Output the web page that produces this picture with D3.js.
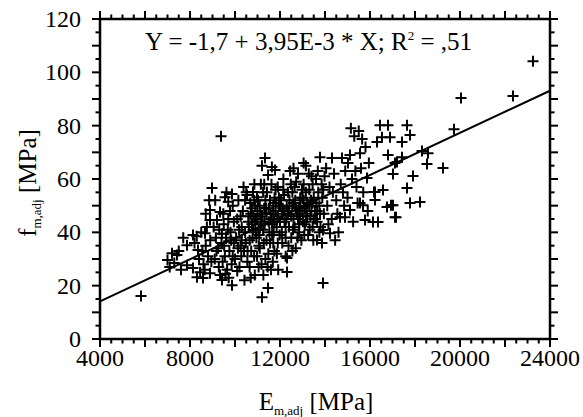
<!DOCTYPE html>
<html><head><meta charset="utf-8">
<script src="https://cdn.jsdelivr.net/npm/d3@7"></script>
<style>
html,body{margin:0;padding:0;background:#fff;}
svg text{font-family:"Liberation Serif","Times New Roman",Times,serif;fill:#000;}
</style></head>
<body>
<svg id="chart" width="583" height="417" font-family="Liberation Serif, Times New Roman, serif"></svg>
<script>
// ---- data (E_m,adj [MPa], f_m,adj [MPa]) ----
const groupLow = [[5822,16.1],[7000,29.6],[7200,32.2],[7420,31.5],[7100,27],[7600,26],[7867,35.2],[7867,27.7],[7700,38],[7500,33],[7300,28.5]];
const group8k = [[8133,26.6],[8133,39],[8311,23.2],[8356,33.4],[8578,22.9],[8667,39.7],[8889,24.7],[8889,48.4],[8889,44.6],[8978,56.6],[8200,36],[8400,30],[8500,40],[8600,28],[8700,35],[8800,31],[8900,37],[8450,25],[8750,42],[8300,38.5],[8550,33],[8650,26],[8950,29],[8850,52],[8700,47]];
const group9k = [[9200,44.6],[9333,47.6],[9333,24],[9422,22.1],[9556,53.2],[9867,54.4],[9867,20.2],[9378,76],[9100,30],[9150,38],[9250,34],[9300,41],[9400,36],[9450,29],[9500,43],[9550,31],[9600,38],[9650,26],[9700,45],[9750,33],[9800,40],[9850,28],[9900,50],[9950,36],[9050,42],[9120,52],[9480,47],[9620,55],[9720,23],[9780,48],[9280,27],[9520,35],[9680,41],[9900,31],[9950,44],[9180,33],[9420,39.5],[9580,24.5],[9830,37],[9700,51.5]];
const group10k = [[10000,30],[10050,38],[10100,45],[10150,52],[10200,27],[10250,35],[10300,42],[10350,48],[10400,33],[10450,40],[10500,55],[10533,54],[10550,29],[10600,46],[10650,37],[10700,23],[10750,43],[10800,55.1],[10850,31],[10900,50],[10978,53.2],[10950,38],[10100,25.5],[10180,41],[10280,31],[10380,57],[10420,22],[10480,36],[10620,42],[10680,51],[10720,33],[10820,46],[10880,24],[10920,40],[10650,27],[10780,38],[10980,31],[10250,46],[10560,33],[10860,58],[10300,37],[10750,49],[10450,52],[10920,45],[10130,34]];
const group11k = [[11000,45],[11050,27],[11100,34],[11150,58],[11200,65],[11200,15.7],[11250,41],[11300,49],[11333,67.9],[11350,30],[11400,37],[11467,19.1],[11470,61.5],[11500,44],[11550,52],[11640,64.5],[11600,26],[11650,39],[11700,47],[11750,33],[11780,63.4],[11800,56],[11850,42],[11900,36],[11950,50],[11020,52],[11080,39],[11120,47],[11180,28],[11280,36],[11320,43],[11420,55],[11480,32],[11580,47],[11620,58],[11680,29],[11720,40],[11820,51],[11880,45],[11920,26],[11980,39],[11380,49],[11530,40],[11760,53],[11060,35],[11260,24],[11560,36],[11860,32],[11150,43],[11450,27],[11900,57],[11700,36],[11300,58]];
const group12k = [[12000,44],[12050,52],[12100,36],[12150,60],[12200,48],[12250,31],[12311,30.4],[12311,25.1],[12350,55],[12400,42],[12450,63],[12500,38],[12550,50],[12600,45],[12650,57],[12700,34],[12750,47],[12800,62],[12850,40],[12900,53],[12950,37],[12080,40],[12180,54],[12280,45],[12380,35],[12480,58],[12580,41],[12680,52],[12780,38],[12880,46],[12980,56],[12120,49],[12420,52],[12720,59],[12250,38],[12550,33],[12850,49],[12600,64],[12350,47]];
const group13k = [[13000,48],[13050,58],[13100,43],[13150,65],[13200,51],[13250,39],[13300,56],[13350,46],[13400,61],[13450,42],[13500,53],[13550,48],[13644,37.1],[13600,60],[13650,44],[13700,55],[13778,68.2],[13750,50],[13800,42],[13867,36],[13850,58],[13911,40.9],[13911,21],[13950,47],[13080,39],[13180,47],[13280,62],[13380,52],[13480,37],[13580,45],[13680,63],[13780,47],[13880,53],[13980,61],[13020,44],[13320,41],[13620,51],[13920,56],[13150,55],[13450,58],[13750,40],[13050,66]];
const groupCore = [[10600,44],[10700,47],[10800,41],[10900,44],[11000,48],[11100,50],[11200,46],[11300,44],[11400,47],[11500,49],[11600,45],[11700,50],[11800,48],[11900,46],[12000,50],[12100,47],[12200,44],[12300,50],[12400,48],[12500,46],[12600,51],[12700,49],[12800,45],[12900,50],[13000,53],[13100,49],[13200,46],[13300,50],[13400,48],[13500,45],[11050,41],[11350,52],[11650,43],[11950,53],[12250,42],[12550,55],[12850,43],[13150,44],[13450,51],[13650,48],[10850,52],[11250,55],[11750,44],[12150,56],[12650,42],[13050,52]];
const group14k = [[14222,39.7],[14311,67.9],[14667,45.7],[14756,67.9],[14889,45.7],[15022,66],[15111,69],[15111,48.4],[15556,69.7],[15556,51],[15689,50.2],[15778,44.6],[15867,60.4],[14100,50],[14200,57],[14300,45],[14400,62],[14500,52],[14600,40],[14700,58],[14800,55],[14900,63],[15000,53],[15200,60],[15300,76],[15400,57],[15500,78],[15600,64],[15700,55],[15800,72],[15900,48],[14150,43],[14450,37],[14550,47],[14850,50],[15250,44],[15350,63],[15450,51],[15650,75],[15950,66],[15150,79],[14050,64],[14350,55]];
const group16k = [[16133,43.9],[16222,52.1],[16178,55.1],[16222,55.1],[16311,73.9],[16356,43.9],[16444,80.2],[16533,75.7],[16578,55.9],[16756,49.5],[16800,69],[16800,80.2],[16889,75.7],[16933,50.2],[17022,61.9],[17022,50.2],[17111,45.7],[17111,66],[17156,45.7],[17200,66.4],[17422,68.2],[17422,73.9],[17644,80.2],[17644,56.6],[17778,76.5],[17778,51],[17911,61.1],[18222,51.4],[18311,70.5],[18533,65.6],[18578,69.7]];
const groupHigh = [[19244,64.1],[19733,78.7],[20044,90.4],[22356,91.1],[23244,104.2]];

const xLabels = [4000, 8000, 12000, 16000, 20000, 24000];
const yLabels = [0, 20, 40, 60, 80, 100, 120];
const regIntercept = -1.7, regSlope = 3.95e-3;
const equationText = "Y = -1,7 + 3,95E-3 * X; R";
const equationTail = " = ,51";

const points = [].concat(groupLow, group8k, group9k, group10k, group11k, groupCore, group12k, group13k, group14k, group16k, groupHigh);

// ---- drawing ----
const svg = d3.select("#chart");
const L = 100, R = 550, T = 19, B = 339;
const x = d3.scaleLinear().domain([4000, 24000]).range([L, R]);
const y = d3.scaleLinear().domain([0, 120]).range([B, T]);

// ticks
const xMinor = d3.range(4000, 24001, 500);
const yMinor = d3.range(0, 121, 5);
const tk = svg.append("g").attr("stroke", "#000").attr("stroke-width", 2);
xMinor.forEach(v => {
  const len = (v % 2000 === 0) ? 8 : 4.5;
  tk.append("line").attr("x1", x(v)).attr("x2", x(v)).attr("y1", B).attr("y2", B + len);
  tk.append("line").attr("x1", x(v)).attr("x2", x(v)).attr("y1", T).attr("y2", T - len);
});
yMinor.forEach(v => {
  const len = (v % 10 === 0) ? 8 : 4.5;
  tk.append("line").attr("y1", y(v)).attr("y2", y(v)).attr("x1", L).attr("x2", L - len);
  tk.append("line").attr("y1", y(v)).attr("y2", y(v)).attr("x1", R).attr("x2", R + len);
});

// frame
svg.append("rect").attr("x", L).attr("y", T).attr("width", R - L).attr("height", B - T)
  .attr("fill", "none").attr("stroke", "#000").attr("stroke-width", 2.5);

// tick labels
svg.append("g").selectAll("text").data(xLabels).join("text")
  .attr("x", d => x(d)).attr("y", 366).attr("text-anchor", "middle")
  .attr("font-size", 24).text(d => d);
svg.append("g").selectAll("text").data(yLabels).join("text")
  .attr("x", 81).attr("y", d => y(d)).attr("dy", "0.33em").attr("text-anchor", "end")
  .attr("font-size", 24).text(d => d);

// regression line
svg.append("line")
  .attr("x1", x(4000)).attr("y1", y(regIntercept + regSlope * 4000))
  .attr("x2", x(24000)).attr("y2", y(regIntercept + regSlope * 24000))
  .attr("stroke", "#000").attr("stroke-width", 2);

// points as "+" markers
const cs = 5.5;
svg.append("g").attr("stroke", "#000").attr("stroke-width", 2)
  .selectAll("path").data(points).join("path")
  .attr("d", d => {
    const px = x(d[0]), py = y(d[1]);
    return `M${px - cs},${py}H${px + cs}M${px},${py - cs}V${py + cs}`;
  });

// equation
const eq = svg.append("text").attr("x", 145).attr("y", 50).attr("font-size", 25);
eq.append("tspan").text(equationText);
eq.append("tspan").attr("font-size", 13).attr("dy", -10).text("2");
eq.append("tspan").attr("dy", 10).text(equationTail);

// axis titles
const xt = svg.append("text").attr("x", 316).attr("y", 410).attr("text-anchor", "middle").attr("font-size", 25);
xt.append("tspan").text("E");
xt.append("tspan").attr("font-size", 13).attr("dy", 5).text("m,adj");
xt.append("tspan").attr("dy", -5).text(" [MPa]");

const yt = svg.append("text").attr("transform", "translate(36,183) rotate(-90)")
  .attr("text-anchor", "middle").attr("font-size", 25);
yt.append("tspan").text("f");
yt.append("tspan").attr("font-size", 13).attr("dy", 5).text("m,adj");
yt.append("tspan").attr("dy", -5).text(" [MPa]");
</script>
</body></html>
